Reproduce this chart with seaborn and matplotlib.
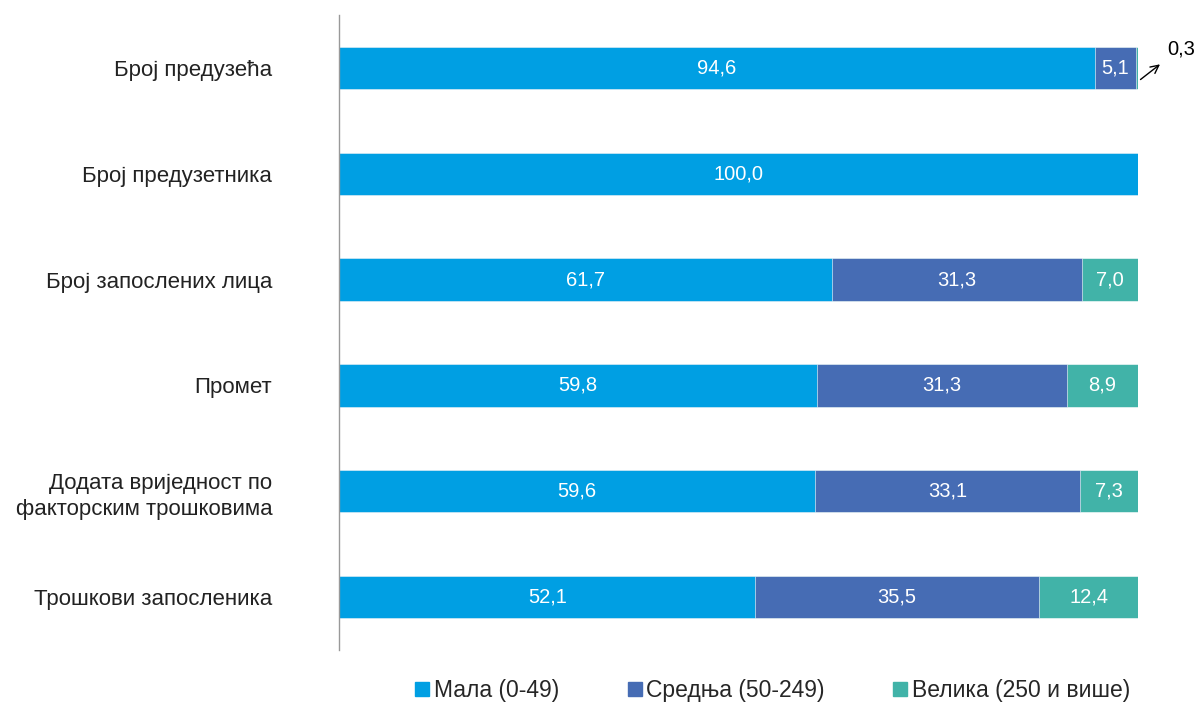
import numpy as np
import pandas as pd
import matplotlib
matplotlib.use("Agg")
import matplotlib.pyplot as plt
import seaborn as sns

# data
categories = ["Број предузећа", "Број предузетника", "Број запослених лица",
              "Промет", "Додата вриједност по\nфакторским трошковима",
              "Трошкови запосленика"]
mala = [94.6, 100.0, 61.7, 59.8, 59.6, 52.1]
srednja = [5.1, 0.0, 31.3, 31.3, 33.1, 35.5]
velika = [0.3, 0.0, 7.0, 8.9, 7.3, 12.4]
series_names = ["Мала (0-49)", "Средња (50-249)", "Велика (250 и више)"]
colors = ["#009FE3", "#466CB4", "#41B3A8"]

sns.set_style("white")
plt.rcParams["font.family"] = ["Liberation Sans", "DejaVu Sans"]

df = pd.DataFrame({"cat": categories, "mala": mala, "srednja": srednja, "velika": velika})
df["c1"] = df["mala"]
df["c2"] = df["mala"] + df["srednja"]
df["c3"] = df["c2"] + df["velika"]

fig = plt.figure(figsize=(11.98, 7.06), dpi=100)
ax = fig.add_axes([0.283, 0.0793, 0.667, 0.8995])

# stacked bars drawn as overlapping cumulative bars
for col, color in zip(["c3", "c2", "c1"], colors[::-1]):
    sns.barplot(data=df, x=col, y="cat", orient="h", color=color, width=0.4,
                ax=ax, saturation=1, edgecolor="white", linewidth=0.4)

ax.set_xlim(0, 100)
ax.set_ylim(5.5, -0.5)
ax.set_xlabel("")
ax.set_ylabel("")
ax.set_xticks([])
ax.tick_params(axis="y", length=0, pad=48, labelsize=16, labelcolor="#222222")
for lbl in ax.get_yticklabels():
    lbl.set_linespacing(1.35)
for s in ["top", "right", "bottom"]:
    ax.spines[s].set_visible(False)
ax.spines["left"].set_color("#999999")
ax.spines["left"].set_linewidth(1.0)

def fmt(v):
    return f"{v:.1f}".replace(".", ",")

for i in range(len(categories)):
    starts = [0, mala[i], mala[i] + srednja[i]]
    vals = [mala[i], srednja[i], velika[i]]
    for s, v in zip(starts, vals):
        if v >= 1:
            ax.text(s + v / 2, i, fmt(v), ha="center", va="center",
                    color="white", fontsize=14.5)

# small value outside the first bar
ax.annotate(fmt(velika[0]), xy=(100.3, 0.11), xytext=(103.7, -0.18),
            ha="left", va="center", fontsize=14.5, color="black",
            arrowprops=dict(arrowstyle="<-", color="black", lw=1,
                            shrinkA=4, shrinkB=0, relpos=(0, 0)),
            annotation_clip=False)

handles = [plt.Rectangle((0, 0), 1, 1, color=c) for c in colors]
fig.legend(handles, series_names, loc="center", bbox_to_anchor=(0.645, 0.022),
           ncol=3, frameon=False, fontsize=16.5, handlelength=0.6, handleheight=0.6,
           handletextpad=0.2, columnspacing=3.0)

fig.savefig("out.png", dpi=100)
